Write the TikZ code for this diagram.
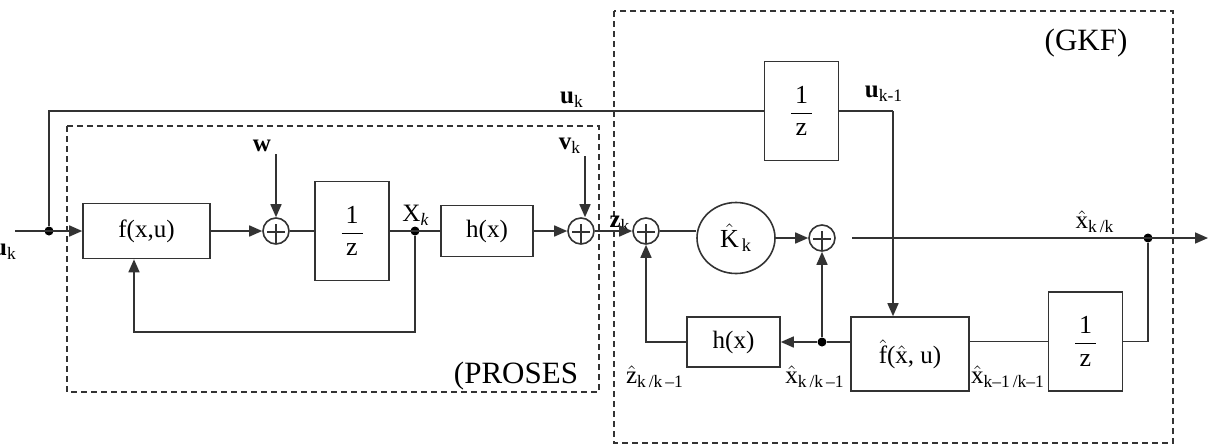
\documentclass[tikz,border=0pt]{standalone}
\usepackage{fontspec}
\setmainfont{Liberation Serif}
\usepackage{amsmath}
\usepackage{tikz}
\usetikzlibrary{shapes.geometric, arrows.meta, positioning, calc}
\definecolor{blockline}{HTML}{333333}

\begin{document}
\begin{tikzpicture}[
  x=0.5pt, y=-0.5pt,
  block/.style={draw=blockline, line width=0.8pt, fill=white, align=center, font=\fontsize{12.5}{14}\selectfont, inner sep=1pt},
  delay/.style={block, minimum width=37pt, minimum height=49.5pt, font=\fontsize{13}{15}\selectfont},
  sumnode/.style={draw=blockline, line width=0.8pt, circle, fill=white, minimum size=13pt, inner sep=0pt,
    path picture={\draw[line width=0.6pt, blockline] ([shift={(-4.5pt,-0.5pt)}]path picture bounding box.center) -- ++(9pt,0pt);
                  \draw[line width=0.6pt, blockline] ([shift={(0pt,3.5pt)}]path picture bounding box.center) -- ++(0pt,-11pt);}},
  junction/.style={circle, fill=black, inner sep=0pt, minimum size=4.5pt},
  sig/.style={font=\fontsize{12.5}{14}\selectfont, inner sep=1pt},
  framelab/.style={font=\fontsize{15.5}{18}\selectfont, inner sep=1pt},
  frame/.style={draw=blockline, line width=0.8pt, dash pattern=on 3pt off 2pt},
  flow/.style={-{Triangle[length=6.5pt, width=5.5pt]}, line width=0.8pt, blockline},
  wire/.style={line width=0.8pt, blockline}
]
\useasboundingbox (0,0) rectangle (1209,445);

% Dashed frames
\draw[frame] (67,126) rectangle (599,392);
\draw[frame] (614,11) rectangle (1173,443);
\node[framelab] (proseslab) at (516,376) {(PROSES};
\node[framelab] (gkflab) at (1086,43) {(GKF)};

% Process (left)
\node[block, minimum width=63.5pt, minimum height=27.5pt] (fxu) at (146.5,231) {f(x,u)};
\node[sumnode] (sum1) at (276,231) {};
\node[delay] (delay1) at (352,231) {$\dfrac{\,\text{1}\,}{\,\text{z}\,}$};
\node[junction] (xk) at (415,231) {};
\node[block, minimum width=46pt, minimum height=25.5pt] (hx) at (487,231) {h(x)};
\node[sumnode] (sum2) at (581,231) {};

% Filter (right)
\node[sumnode] (sum3) at (646,231) {};
\node[draw=blockline, line width=0.8pt, ellipse, minimum width=39pt, minimum height=35.5pt, inner sep=0pt,
  font=\fontsize{13}{15}\selectfont] (gain) at (736,238) {$\hat{\text{K}}_{\,\text{k}}$};
\node[sumnode] (sum4) at (822,238) {};
\node[delay] (delay0) at (801.5,111) {$\dfrac{\,\text{1}\,}{\,\text{z}\,}$};
\node[block, minimum width=59pt, minimum height=37pt] (fhat) at (910,354) {$\hat{\text{f}}\text{(}\hat{\text{x}}\text{, u)}$};
\node[delay] (delay2) at (1085.5,341.5) {$\dfrac{\,\text{1}\,}{\,\text{z}\,}$};
\node[block, minimum width=46.5pt, minimum height=25pt] (hx2) at (733.5,342) {h(x)};
\node[junction] (xpred) at (822,342) {};
\node[junction] (xkk) at (1148,238) {};
\node[junction] (ufork) at (49,231) {};
\coordinate (uin) at (15,231);
\coordinate (ucorner) at (893,111);
\coordinate (fbk) at (134,332);
\coordinate (xout0) at (852,238);
\coordinate (xout1) at (1208,238);

% Signal labels
\node[sig] (uinlab) at (5,252) {\textbf{u}\textsubscript{k}};
\node[sig] (uklab) at (572,100) {\textbf{u}\textsubscript{k}};
\node[sig] (uk1lab) at (884,94) {\textbf{u}\textsubscript{k-1}};
\node[sig] (wlab) at (262,146) {\textbf{w}};
\node[sig] (vlab) at (570,146) {\textbf{v}\textsubscript{k}};
\node[sig] (xklab) at (416,215) {X\textsubscript{\textit{k}}};
\node[sig] (zklab) at (620,224) {\textbf{z}\textsubscript{k}};
\node[sig] (xkklab) at (1095,222) {$\hat{\text{x}}$\textsubscript{k\,/k}};
\node[sig] (zpredlab) at (655,377) {$\hat{\text{z}}$\textsubscript{k\,/k\,--1}};
\node[sig] (xpredlab) at (815,377) {$\hat{\text{x}}$\textsubscript{k\,/k\,--1}};
\node[sig] (xoldlab) at (1008,377) {$\hat{\text{x}}$\textsubscript{k--1\,/k--1}};

% Process connections
\draw[flow] (uin) -- (fxu.west);
\draw[wire] (ufork) |- (delay0.west);
\draw[flow] (fxu.east) -- (sum1.west);
\draw[flow] (sum1 |- wlab.south) -- (sum1.north);
\draw[wire] (sum1.east) -- (delay1.west);
\draw[wire] (delay1.east) -- (hx.west);
\draw[flow] (xk) |- (fbk) -- (fbk |- fxu.south);
\draw[flow] (hx.east) -- (sum2.west);
\draw[flow] ([xshift=2pt]sum2 |- vlab.south) -- ([xshift=2pt]sum2.north);
\draw[flow] (sum2.east) -- (sum3.west);

% Filter connections
\draw[wire] (sum3.east) -- (sum3.east -| gain.west);
\draw[flow] (gain.east) -- (sum4.west);
\draw[wire] (delay0.east) -- (ucorner);
\draw[flow] (ucorner) -- (ucorner |- fhat.north);
\draw[flow] (xout0) -- (xout1);
\draw[wire] (xkk) |- (delay2.east);
\draw[wire] (delay2.west) -- (delay2.west -| fhat.east);
\draw[wire] (xpred -| fhat.west) -- (xpred);
\draw[flow] (xpred) -- (hx2.east);
\draw[flow] (xpred) -- (sum4.south);
\draw[flow] (hx2.west) -| (sum3.south);

\end{tikzpicture}
\end{document}
